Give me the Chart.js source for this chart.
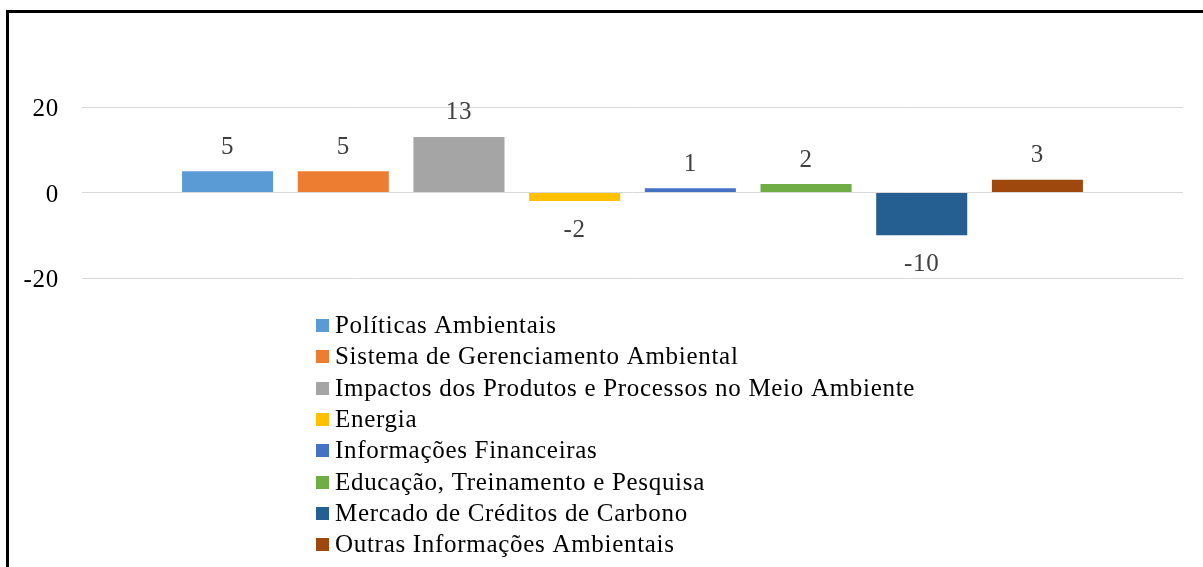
<!DOCTYPE html>
<html>
<head>
<meta charset="utf-8">
<script src="https://cdn.jsdelivr.net/npm/chart.js@4"></script>
<style>
  html, body { margin: 0; padding: 0; background: #fff; }
  #wrap { position: relative; width: 1203px; height: 567px; overflow: hidden; }
  #frame { position: absolute; left: 6px; top: 10px; right: -10px; bottom: -10px;
           border-top: 3px solid #000; border-left: 3px solid #000; pointer-events: none; }
  canvas { position: absolute; left: 0; top: 0; }
</style>
</head>
<body>
<div id="wrap">
  <canvas id="c" width="1203" height="567"></canvas>
  <div id="frame"></div>
</div>
<script>
const categories = [''];
const seriesNames = [
  'Políticas Ambientais',
  'Sistema de Gerenciamento Ambiental',
  'Impactos dos Produtos e Processos no Meio Ambiente',
  'Energia',
  'Informações Financeiras',
  'Educação, Treinamento e Pesquisa',
  'Mercado de Créditos de Carbono',
  'Outras Informações Ambientais'
];
const seriesValues = [5, 5, 13, -2, 1, 2, -10, 3];
const seriesColors = ['#5b9bd5', '#ed7d31', '#a5a5a5', '#ffc000', '#4472c4', '#70ad47', '#255e91', '#9e480e'];
const yTicks = [-20, 0, 20];

const FONT = '"Liberation Serif", "Times New Roman", serif';
const SPACING = '0.7px';

const datasets = seriesNames.map((name, i) => ({
  label: name,
  data: [seriesValues[i]],
  backgroundColor: seriesColors[i],
  borderWidth: 0,
  categoryPercentage: 0.8406,
  barPercentage: 0.787
}));

const spacingPlugin = {
  id: 'spacing',
  beforeDraw(chart) { chart.ctx.letterSpacing = SPACING; }
};

const valueLabels = {
  id: 'valueLabels',
  afterDatasetsDraw(chart) {
    const ctx = chart.ctx;
    ctx.save();
    ctx.letterSpacing = SPACING;
    ctx.font = '25px ' + FONT;
    ctx.fillStyle = '#404040';
    ctx.textAlign = 'center';
    ctx.textBaseline = 'middle';
    chart.data.datasets.forEach((ds, di) => {
      const meta = chart.getDatasetMeta(di);
      meta.data.forEach((bar, j) => {
        const v = ds.data[j];
        const y = v >= 0 ? bar.y - 24 : bar.y + 29.5;
        ctx.fillText(String(v), bar.x, y);
      });
    });
    ctx.restore();
  }
};

const listLegend = {
  id: 'listLegend',
  afterDraw(chart) {
    const ctx = chart.ctx;
    ctx.save();
    ctx.letterSpacing = SPACING;
    ctx.font = '25px ' + FONT;
    ctx.textAlign = 'left';
    ctx.textBaseline = 'middle';
    const x0 = 316, y0 = 325.5, step = 31.3, box = 13;
    chart.data.datasets.forEach((ds, i) => {
      const y = y0 + i * step;
      ctx.fillStyle = ds.backgroundColor;
      ctx.fillRect(x0, Math.round(y - box / 2), box, box);
      ctx.fillStyle = '#000';
      ctx.fillText(ds.label, x0 + 19, y + 1);
    });
    ctx.restore();
  }
};

new Chart(document.getElementById('c'), {
  type: 'bar',
  data: { labels: categories, datasets: datasets },
  options: {
    responsive: false,
    animation: false,
    layout: { padding: { left: 0, right: 20, top: 107, bottom: 289 } },
    plugins: {
      legend: { display: false },
      tooltip: { enabled: false }
    },
    scales: {
      x: {
        display: true,
        grid: { display: false, drawTicks: false },
        border: { display: false },
        ticks: { display: false }
      },
      y: {
        min: -20, max: 20,
        afterBuildTicks(scale) { scale.ticks = yTicks.map(v => ({ value: v })); },
        afterFit(scale) { scale.width = 82; },
        grid: { color: '#d9d9d9', lineWidth: 1, drawTicks: false },
        border: { display: false },
        ticks: {
          padding: 23,
          labelOffset: 2.5,
          color: '#000',
          font: { family: FONT, size: 25 },
          callback: v => String(v)
        }
      }
    }
  },
  plugins: [spacingPlugin, valueLabels, listLegend]
});
</script>
</body>
</html>
